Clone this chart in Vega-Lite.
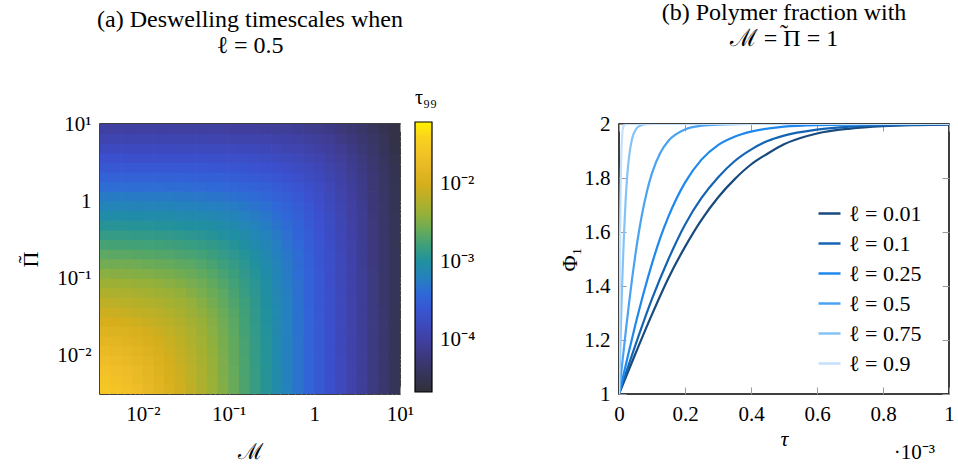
{
"$schema": "https://vega.github.io/schema/vega-lite/v6.json",
"padding": {"left": 13, "top": 0, "right": 2, "bottom": 2},
"spacing": 81,
"config": {
  "font": "Liberation Serif",
  "view": {"stroke": "black", "strokeWidth": 1.5},
  "axis": {"domain": false, "grid": false, "tickColor": "#9a9a9a", "tickWidth": 1, "labelFontSize": 21, "labelColor": "black", "labelFont": "Liberation Serif", "titleFont": "Liberation Serif", "titleFontSize": 22, "titleFontWeight": "normal", "titleColor": "black", "labelPadding": 9, "labelOverlap": false, "labelFlush": false},
  "legend": {"labelFont": "Liberation Serif", "titleFont": "Liberation Serif", "labelColor": "black", "titleColor": "black", "titleFontWeight": "normal"},
  "text": {"font": "Liberation Serif"}
},
"datasets": {
"curves": [
{"ell":0.01,"tau":0,"phi":1},{"ell":0.01,"tau":0.05,"phi":1.15},{"ell":0.01,"tau":0.1,"phi":1.295},{"ell":0.01,"tau":0.15,"phi":1.43},{"ell":0.01,"tau":0.2,"phi":1.545},{"ell":0.01,"tau":0.25,"phi":1.645},{"ell":0.01,"tau":0.3,"phi":1.728},{"ell":0.01,"tau":0.35,"phi":1.795},{"ell":0.01,"tau":0.4,"phi":1.85},{"ell":0.01,"tau":0.45,"phi":1.89},{"ell":0.01,"tau":0.5,"phi":1.925},{"ell":0.01,"tau":0.55,"phi":1.948},{"ell":0.01,"tau":0.6,"phi":1.965},{"ell":0.01,"tau":0.7,"phi":1.983},{"ell":0.01,"tau":0.8,"phi":1.992},{"ell":0.01,"tau":0.9,"phi":1.996},{"ell":0.01,"tau":1,"phi":1.998},
{"ell":0.1,"tau":0,"phi":1},{"ell":0.1,"tau":0.05,"phi":1.182},{"ell":0.1,"tau":0.1,"phi":1.352},{"ell":0.1,"tau":0.15,"phi":1.5},{"ell":0.1,"tau":0.2,"phi":1.627},{"ell":0.1,"tau":0.25,"phi":1.726},{"ell":0.1,"tau":0.3,"phi":1.802},{"ell":0.1,"tau":0.35,"phi":1.862},{"ell":0.1,"tau":0.4,"phi":1.905},{"ell":0.1,"tau":0.45,"phi":1.937},{"ell":0.1,"tau":0.5,"phi":1.957},{"ell":0.1,"tau":0.6,"phi":1.979},{"ell":0.1,"tau":0.7,"phi":1.99},{"ell":0.1,"tau":0.8,"phi":1.995},{"ell":0.1,"tau":0.9,"phi":1.998},{"ell":0.1,"tau":1,"phi":1.999},
{"ell":0.25,"tau":0,"phi":1},{"ell":0.25,"tau":0.025,"phi":1.131},{"ell":0.25,"tau":0.05,"phi":1.258},{"ell":0.25,"tau":0.075,"phi":1.376},{"ell":0.25,"tau":0.1,"phi":1.483},{"ell":0.25,"tau":0.125,"phi":1.578},{"ell":0.25,"tau":0.15,"phi":1.658},{"ell":0.25,"tau":0.2,"phi":1.783},{"ell":0.25,"tau":0.25,"phi":1.868},{"ell":0.25,"tau":0.3,"phi":1.922},{"ell":0.25,"tau":0.35,"phi":1.953},{"ell":0.25,"tau":0.4,"phi":1.972},{"ell":0.25,"tau":0.5,"phi":1.99},{"ell":0.25,"tau":0.6,"phi":1.996},{"ell":0.25,"tau":0.8,"phi":1.999},{"ell":0.25,"tau":1,"phi":2},
{"ell":0.5,"tau":0,"phi":1},{"ell":0.5,"tau":0.01,"phi":1.115},{"ell":0.5,"tau":0.02,"phi":1.226},{"ell":0.5,"tau":0.03,"phi":1.332},{"ell":0.5,"tau":0.04,"phi":1.43},{"ell":0.5,"tau":0.05,"phi":1.519},{"ell":0.5,"tau":0.06,"phi":1.598},{"ell":0.5,"tau":0.07,"phi":1.667},{"ell":0.5,"tau":0.085,"phi":1.752},{"ell":0.5,"tau":0.1,"phi":1.818},{"ell":0.5,"tau":0.125,"phi":1.893},{"ell":0.5,"tau":0.15,"phi":1.938},{"ell":0.5,"tau":0.2,"phi":1.98},{"ell":0.5,"tau":0.25,"phi":1.994},{"ell":0.5,"tau":0.3,"phi":1.998},{"ell":0.5,"tau":0.4,"phi":2},{"ell":0.5,"tau":1,"phi":2},
{"ell":0.75,"tau":0,"phi":1},{"ell":0.75,"tau":0.0025,"phi":1.112},{"ell":0.75,"tau":0.005,"phi":1.221},{"ell":0.75,"tau":0.0075,"phi":1.325},{"ell":0.75,"tau":0.01,"phi":1.422},{"ell":0.75,"tau":0.0125,"phi":1.51},{"ell":0.75,"tau":0.015,"phi":1.588},{"ell":0.75,"tau":0.02,"phi":1.716},{"ell":0.75,"tau":0.025,"phi":1.81},{"ell":0.75,"tau":0.03,"phi":1.874},{"ell":0.75,"tau":0.04,"phi":1.947},{"ell":0.75,"tau":0.05,"phi":1.978},{"ell":0.75,"tau":0.06,"phi":1.991},{"ell":0.75,"tau":0.08,"phi":1.999},{"ell":0.75,"tau":0.1,"phi":2},{"ell":0.75,"tau":1,"phi":2},
{"ell":0.9,"tau":0,"phi":1},{"ell":0.9,"tau":0.001,"phi":1.197},{"ell":0.9,"tau":0.002,"phi":1.38},{"ell":0.9,"tau":0.003,"phi":1.537},{"ell":0.9,"tau":0.004,"phi":1.664},{"ell":0.9,"tau":0.005,"phi":1.762},{"ell":0.9,"tau":0.006,"phi":1.834},{"ell":0.9,"tau":0.008,"phi":1.922},{"ell":0.9,"tau":0.01,"phi":1.964},{"ell":0.9,"tau":0.0125,"phi":1.987},{"ell":0.9,"tau":0.015,"phi":1.995},{"ell":0.9,"tau":0.02,"phi":1.999},{"ell":0.9,"tau":0.03,"phi":2},{"ell":0.9,"tau":1,"phi":2}
],
"heat": [
{"logM":-2.4375,"logPi":-2.4375,"logTau":-1.55},{"logM":-2.3125,"logPi":-2.4375,"logTau":-1.59},{"logM":-2.1875,"logPi":-2.4375,"logTau":-1.64},{"logM":-2.0625,"logPi":-2.4375,"logTau":-1.71},{"logM":-1.9375,"logPi":-2.4375,"logTau":-1.78},{"logM":-1.8125,"logPi":-2.4375,"logTau":-1.86},{"logM":-1.6875,"logPi":-2.4375,"logTau":-1.95},{"logM":-1.5625,"logPi":-2.4375,"logTau":-2.04},{"logM":-1.4375,"logPi":-2.4375,"logTau":-2.14},{"logM":-1.3125,"logPi":-2.4375,"logTau":-2.25},{"logM":-1.1875,"logPi":-2.4375,"logTau":-2.36},{"logM":-1.0625,"logPi":-2.4375,"logTau":-2.47},{"logM":-0.9375,"logPi":-2.4375,"logTau":-2.59},{"logM":-0.8125,"logPi":-2.4375,"logTau":-2.71},{"logM":-0.6875,"logPi":-2.4375,"logTau":-2.83},{"logM":-0.5625,"logPi":-2.4375,"logTau":-2.95},{"logM":-0.4375,"logPi":-2.4375,"logTau":-3.07},{"logM":-0.3125,"logPi":-2.4375,"logTau":-3.19},{"logM":-0.1875,"logPi":-2.4375,"logTau":-3.32},{"logM":-0.0625,"logPi":-2.4375,"logTau":-3.44},{"logM":0.0625,"logPi":-2.4375,"logTau":-3.57},{"logM":0.1875,"logPi":-2.4375,"logTau":-3.69},{"logM":0.3125,"logPi":-2.4375,"logTau":-3.81},{"logM":0.4375,"logPi":-2.4375,"logTau":-3.94},{"logM":0.5625,"logPi":-2.4375,"logTau":-4.06},{"logM":0.6875,"logPi":-2.4375,"logTau":-4.19},{"logM":0.8125,"logPi":-2.4375,"logTau":-4.31},{"logM":0.9375,"logPi":-2.4375,"logTau":-4.44},
{"logM":-2.4375,"logPi":-2.3125,"logTau":-1.59},{"logM":-2.3125,"logPi":-2.3125,"logTau":-1.63},{"logM":-2.1875,"logPi":-2.3125,"logTau":-1.68},{"logM":-2.0625,"logPi":-2.3125,"logTau":-1.74},{"logM":-1.9375,"logPi":-2.3125,"logTau":-1.81},{"logM":-1.8125,"logPi":-2.3125,"logTau":-1.88},{"logM":-1.6875,"logPi":-2.3125,"logTau":-1.97},{"logM":-1.5625,"logPi":-2.3125,"logTau":-2.06},{"logM":-1.4375,"logPi":-2.3125,"logTau":-2.15},{"logM":-1.3125,"logPi":-2.3125,"logTau":-2.26},{"logM":-1.1875,"logPi":-2.3125,"logTau":-2.37},{"logM":-1.0625,"logPi":-2.3125,"logTau":-2.48},{"logM":-0.9375,"logPi":-2.3125,"logTau":-2.59},{"logM":-0.8125,"logPi":-2.3125,"logTau":-2.71},{"logM":-0.6875,"logPi":-2.3125,"logTau":-2.83},{"logM":-0.5625,"logPi":-2.3125,"logTau":-2.95},{"logM":-0.4375,"logPi":-2.3125,"logTau":-3.07},{"logM":-0.3125,"logPi":-2.3125,"logTau":-3.2},{"logM":-0.1875,"logPi":-2.3125,"logTau":-3.32},{"logM":-0.0625,"logPi":-2.3125,"logTau":-3.44},{"logM":0.0625,"logPi":-2.3125,"logTau":-3.57},{"logM":0.1875,"logPi":-2.3125,"logTau":-3.69},{"logM":0.3125,"logPi":-2.3125,"logTau":-3.81},{"logM":0.4375,"logPi":-2.3125,"logTau":-3.94},{"logM":0.5625,"logPi":-2.3125,"logTau":-4.06},{"logM":0.6875,"logPi":-2.3125,"logTau":-4.19},{"logM":0.8125,"logPi":-2.3125,"logTau":-4.31},{"logM":0.9375,"logPi":-2.3125,"logTau":-4.44},
{"logM":-2.4375,"logPi":-2.1875,"logTau":-1.64},{"logM":-2.3125,"logPi":-2.1875,"logTau":-1.68},{"logM":-2.1875,"logPi":-2.1875,"logTau":-1.72},{"logM":-2.0625,"logPi":-2.1875,"logTau":-1.77},{"logM":-1.9375,"logPi":-2.1875,"logTau":-1.84},{"logM":-1.8125,"logPi":-2.1875,"logTau":-1.91},{"logM":-1.6875,"logPi":-2.1875,"logTau":-1.99},{"logM":-1.5625,"logPi":-2.1875,"logTau":-2.07},{"logM":-1.4375,"logPi":-2.1875,"logTau":-2.17},{"logM":-1.3125,"logPi":-2.1875,"logTau":-2.27},{"logM":-1.1875,"logPi":-2.1875,"logTau":-2.38},{"logM":-1.0625,"logPi":-2.1875,"logTau":-2.49},{"logM":-0.9375,"logPi":-2.1875,"logTau":-2.6},{"logM":-0.8125,"logPi":-2.1875,"logTau":-2.72},{"logM":-0.6875,"logPi":-2.1875,"logTau":-2.83},{"logM":-0.5625,"logPi":-2.1875,"logTau":-2.95},{"logM":-0.4375,"logPi":-2.1875,"logTau":-3.07},{"logM":-0.3125,"logPi":-2.1875,"logTau":-3.2},{"logM":-0.1875,"logPi":-2.1875,"logTau":-3.32},{"logM":-0.0625,"logPi":-2.1875,"logTau":-3.44},{"logM":0.0625,"logPi":-2.1875,"logTau":-3.57},{"logM":0.1875,"logPi":-2.1875,"logTau":-3.69},{"logM":0.3125,"logPi":-2.1875,"logTau":-3.81},{"logM":0.4375,"logPi":-2.1875,"logTau":-3.94},{"logM":0.5625,"logPi":-2.1875,"logTau":-4.06},{"logM":0.6875,"logPi":-2.1875,"logTau":-4.19},{"logM":0.8125,"logPi":-2.1875,"logTau":-4.31},{"logM":0.9375,"logPi":-2.1875,"logTau":-4.44},
{"logM":-2.4375,"logPi":-2.0625,"logTau":-1.7},{"logM":-2.3125,"logPi":-2.0625,"logTau":-1.73},{"logM":-2.1875,"logPi":-2.0625,"logTau":-1.77},{"logM":-2.0625,"logPi":-2.0625,"logTau":-1.82},{"logM":-1.9375,"logPi":-2.0625,"logTau":-1.87},{"logM":-1.8125,"logPi":-2.0625,"logTau":-1.94},{"logM":-1.6875,"logPi":-2.0625,"logTau":-2.01},{"logM":-1.5625,"logPi":-2.0625,"logTau":-2.1},{"logM":-1.4375,"logPi":-2.0625,"logTau":-2.19},{"logM":-1.3125,"logPi":-2.0625,"logTau":-2.28},{"logM":-1.1875,"logPi":-2.0625,"logTau":-2.39},{"logM":-1.0625,"logPi":-2.0625,"logTau":-2.49},{"logM":-0.9375,"logPi":-2.0625,"logTau":-2.61},{"logM":-0.8125,"logPi":-2.0625,"logTau":-2.72},{"logM":-0.6875,"logPi":-2.0625,"logTau":-2.84},{"logM":-0.5625,"logPi":-2.0625,"logTau":-2.96},{"logM":-0.4375,"logPi":-2.0625,"logTau":-3.08},{"logM":-0.3125,"logPi":-2.0625,"logTau":-3.2},{"logM":-0.1875,"logPi":-2.0625,"logTau":-3.32},{"logM":-0.0625,"logPi":-2.0625,"logTau":-3.44},{"logM":0.0625,"logPi":-2.0625,"logTau":-3.57},{"logM":0.1875,"logPi":-2.0625,"logTau":-3.69},{"logM":0.3125,"logPi":-2.0625,"logTau":-3.81},{"logM":0.4375,"logPi":-2.0625,"logTau":-3.94},{"logM":0.5625,"logPi":-2.0625,"logTau":-4.06},{"logM":0.6875,"logPi":-2.0625,"logTau":-4.19},{"logM":0.8125,"logPi":-2.0625,"logTau":-4.31},{"logM":0.9375,"logPi":-2.0625,"logTau":-4.44},
{"logM":-2.4375,"logPi":-1.9375,"logTau":-1.76},{"logM":-2.3125,"logPi":-1.9375,"logTau":-1.79},{"logM":-2.1875,"logPi":-1.9375,"logTau":-1.82},{"logM":-2.0625,"logPi":-1.9375,"logTau":-1.87},{"logM":-1.9375,"logPi":-1.9375,"logTau":-1.92},{"logM":-1.8125,"logPi":-1.9375,"logTau":-1.98},{"logM":-1.6875,"logPi":-1.9375,"logTau":-2.05},{"logM":-1.5625,"logPi":-1.9375,"logTau":-2.12},{"logM":-1.4375,"logPi":-1.9375,"logTau":-2.21},{"logM":-1.3125,"logPi":-1.9375,"logTau":-2.3},{"logM":-1.1875,"logPi":-1.9375,"logTau":-2.4},{"logM":-1.0625,"logPi":-1.9375,"logTau":-2.51},{"logM":-0.9375,"logPi":-1.9375,"logTau":-2.61},{"logM":-0.8125,"logPi":-1.9375,"logTau":-2.73},{"logM":-0.6875,"logPi":-1.9375,"logTau":-2.84},{"logM":-0.5625,"logPi":-1.9375,"logTau":-2.96},{"logM":-0.4375,"logPi":-1.9375,"logTau":-3.08},{"logM":-0.3125,"logPi":-1.9375,"logTau":-3.2},{"logM":-0.1875,"logPi":-1.9375,"logTau":-3.32},{"logM":-0.0625,"logPi":-1.9375,"logTau":-3.44},{"logM":0.0625,"logPi":-1.9375,"logTau":-3.57},{"logM":0.1875,"logPi":-1.9375,"logTau":-3.69},{"logM":0.3125,"logPi":-1.9375,"logTau":-3.82},{"logM":0.4375,"logPi":-1.9375,"logTau":-3.94},{"logM":0.5625,"logPi":-1.9375,"logTau":-4.06},{"logM":0.6875,"logPi":-1.9375,"logTau":-4.19},{"logM":0.8125,"logPi":-1.9375,"logTau":-4.31},{"logM":0.9375,"logPi":-1.9375,"logTau":-4.44},
{"logM":-2.4375,"logPi":-1.8125,"logTau":-1.83},{"logM":-2.3125,"logPi":-1.8125,"logTau":-1.85},{"logM":-2.1875,"logPi":-1.8125,"logTau":-1.88},{"logM":-2.0625,"logPi":-1.8125,"logTau":-1.92},{"logM":-1.9375,"logPi":-1.8125,"logTau":-1.97},{"logM":-1.8125,"logPi":-1.8125,"logTau":-2.02},{"logM":-1.6875,"logPi":-1.8125,"logTau":-2.08},{"logM":-1.5625,"logPi":-1.8125,"logTau":-2.15},{"logM":-1.4375,"logPi":-1.8125,"logTau":-2.23},{"logM":-1.3125,"logPi":-1.8125,"logTau":-2.32},{"logM":-1.1875,"logPi":-1.8125,"logTau":-2.42},{"logM":-1.0625,"logPi":-1.8125,"logTau":-2.52},{"logM":-0.9375,"logPi":-1.8125,"logTau":-2.62},{"logM":-0.8125,"logPi":-1.8125,"logTau":-2.73},{"logM":-0.6875,"logPi":-1.8125,"logTau":-2.85},{"logM":-0.5625,"logPi":-1.8125,"logTau":-2.96},{"logM":-0.4375,"logPi":-1.8125,"logTau":-3.08},{"logM":-0.3125,"logPi":-1.8125,"logTau":-3.2},{"logM":-0.1875,"logPi":-1.8125,"logTau":-3.32},{"logM":-0.0625,"logPi":-1.8125,"logTau":-3.45},{"logM":0.0625,"logPi":-1.8125,"logTau":-3.57},{"logM":0.1875,"logPi":-1.8125,"logTau":-3.69},{"logM":0.3125,"logPi":-1.8125,"logTau":-3.82},{"logM":0.4375,"logPi":-1.8125,"logTau":-3.94},{"logM":0.5625,"logPi":-1.8125,"logTau":-4.06},{"logM":0.6875,"logPi":-1.8125,"logTau":-4.19},{"logM":0.8125,"logPi":-1.8125,"logTau":-4.31},{"logM":0.9375,"logPi":-1.8125,"logTau":-4.44},
{"logM":-2.4375,"logPi":-1.6875,"logTau":-1.91},{"logM":-2.3125,"logPi":-1.6875,"logTau":-1.93},{"logM":-2.1875,"logPi":-1.6875,"logTau":-1.95},{"logM":-2.0625,"logPi":-1.6875,"logTau":-1.98},{"logM":-1.9375,"logPi":-1.6875,"logTau":-2.02},{"logM":-1.8125,"logPi":-1.6875,"logTau":-2.07},{"logM":-1.6875,"logPi":-1.6875,"logTau":-2.13},{"logM":-1.5625,"logPi":-1.6875,"logTau":-2.19},{"logM":-1.4375,"logPi":-1.6875,"logTau":-2.27},{"logM":-1.3125,"logPi":-1.6875,"logTau":-2.35},{"logM":-1.1875,"logPi":-1.6875,"logTau":-2.44},{"logM":-1.0625,"logPi":-1.6875,"logTau":-2.53},{"logM":-0.9375,"logPi":-1.6875,"logTau":-2.64},{"logM":-0.8125,"logPi":-1.6875,"logTau":-2.75},{"logM":-0.6875,"logPi":-1.6875,"logTau":-2.86},{"logM":-0.5625,"logPi":-1.6875,"logTau":-2.97},{"logM":-0.4375,"logPi":-1.6875,"logTau":-3.09},{"logM":-0.3125,"logPi":-1.6875,"logTau":-3.21},{"logM":-0.1875,"logPi":-1.6875,"logTau":-3.33},{"logM":-0.0625,"logPi":-1.6875,"logTau":-3.45},{"logM":0.0625,"logPi":-1.6875,"logTau":-3.57},{"logM":0.1875,"logPi":-1.6875,"logTau":-3.69},{"logM":0.3125,"logPi":-1.6875,"logTau":-3.82},{"logM":0.4375,"logPi":-1.6875,"logTau":-3.94},{"logM":0.5625,"logPi":-1.6875,"logTau":-4.07},{"logM":0.6875,"logPi":-1.6875,"logTau":-4.19},{"logM":0.8125,"logPi":-1.6875,"logTau":-4.31},{"logM":0.9375,"logPi":-1.6875,"logTau":-4.44},
{"logM":-2.4375,"logPi":-1.5625,"logTau":-1.99},{"logM":-2.3125,"logPi":-1.5625,"logTau":-2.0},{"logM":-2.1875,"logPi":-1.5625,"logTau":-2.02},{"logM":-2.0625,"logPi":-1.5625,"logTau":-2.05},{"logM":-1.9375,"logPi":-1.5625,"logTau":-2.09},{"logM":-1.8125,"logPi":-1.5625,"logTau":-2.13},{"logM":-1.6875,"logPi":-1.5625,"logTau":-2.18},{"logM":-1.5625,"logPi":-1.5625,"logTau":-2.24},{"logM":-1.4375,"logPi":-1.5625,"logTau":-2.3},{"logM":-1.3125,"logPi":-1.5625,"logTau":-2.38},{"logM":-1.1875,"logPi":-1.5625,"logTau":-2.46},{"logM":-1.0625,"logPi":-1.5625,"logTau":-2.56},{"logM":-0.9375,"logPi":-1.5625,"logTau":-2.65},{"logM":-0.8125,"logPi":-1.5625,"logTau":-2.76},{"logM":-0.6875,"logPi":-1.5625,"logTau":-2.87},{"logM":-0.5625,"logPi":-1.5625,"logTau":-2.98},{"logM":-0.4375,"logPi":-1.5625,"logTau":-3.09},{"logM":-0.3125,"logPi":-1.5625,"logTau":-3.21},{"logM":-0.1875,"logPi":-1.5625,"logTau":-3.33},{"logM":-0.0625,"logPi":-1.5625,"logTau":-3.45},{"logM":0.0625,"logPi":-1.5625,"logTau":-3.57},{"logM":0.1875,"logPi":-1.5625,"logTau":-3.7},{"logM":0.3125,"logPi":-1.5625,"logTau":-3.82},{"logM":0.4375,"logPi":-1.5625,"logTau":-3.94},{"logM":0.5625,"logPi":-1.5625,"logTau":-4.07},{"logM":0.6875,"logPi":-1.5625,"logTau":-4.19},{"logM":0.8125,"logPi":-1.5625,"logTau":-4.31},{"logM":0.9375,"logPi":-1.5625,"logTau":-4.44},
{"logM":-2.4375,"logPi":-1.4375,"logTau":-2.07},{"logM":-2.3125,"logPi":-1.4375,"logTau":-2.08},{"logM":-2.1875,"logPi":-1.4375,"logTau":-2.1},{"logM":-2.0625,"logPi":-1.4375,"logTau":-2.13},{"logM":-1.9375,"logPi":-1.4375,"logTau":-2.15},{"logM":-1.8125,"logPi":-1.4375,"logTau":-2.19},{"logM":-1.6875,"logPi":-1.4375,"logTau":-2.23},{"logM":-1.5625,"logPi":-1.4375,"logTau":-2.28},{"logM":-1.4375,"logPi":-1.4375,"logTau":-2.35},{"logM":-1.3125,"logPi":-1.4375,"logTau":-2.41},{"logM":-1.1875,"logPi":-1.4375,"logTau":-2.49},{"logM":-1.0625,"logPi":-1.4375,"logTau":-2.58},{"logM":-0.9375,"logPi":-1.4375,"logTau":-2.67},{"logM":-0.8125,"logPi":-1.4375,"logTau":-2.77},{"logM":-0.6875,"logPi":-1.4375,"logTau":-2.88},{"logM":-0.5625,"logPi":-1.4375,"logTau":-2.99},{"logM":-0.4375,"logPi":-1.4375,"logTau":-3.1},{"logM":-0.3125,"logPi":-1.4375,"logTau":-3.22},{"logM":-0.1875,"logPi":-1.4375,"logTau":-3.33},{"logM":-0.0625,"logPi":-1.4375,"logTau":-3.45},{"logM":0.0625,"logPi":-1.4375,"logTau":-3.58},{"logM":0.1875,"logPi":-1.4375,"logTau":-3.7},{"logM":0.3125,"logPi":-1.4375,"logTau":-3.82},{"logM":0.4375,"logPi":-1.4375,"logTau":-3.94},{"logM":0.5625,"logPi":-1.4375,"logTau":-4.07},{"logM":0.6875,"logPi":-1.4375,"logTau":-4.19},{"logM":0.8125,"logPi":-1.4375,"logTau":-4.31},{"logM":0.9375,"logPi":-1.4375,"logTau":-4.44},
{"logM":-2.4375,"logPi":-1.3125,"logTau":-2.16},{"logM":-2.3125,"logPi":-1.3125,"logTau":-2.17},{"logM":-2.1875,"logPi":-1.3125,"logTau":-2.19},{"logM":-2.0625,"logPi":-1.3125,"logTau":-2.2},{"logM":-1.9375,"logPi":-1.3125,"logTau":-2.23},{"logM":-1.8125,"logPi":-1.3125,"logTau":-2.26},{"logM":-1.6875,"logPi":-1.3125,"logTau":-2.3},{"logM":-1.5625,"logPi":-1.3125,"logTau":-2.34},{"logM":-1.4375,"logPi":-1.3125,"logTau":-2.39},{"logM":-1.3125,"logPi":-1.3125,"logTau":-2.46},{"logM":-1.1875,"logPi":-1.3125,"logTau":-2.53},{"logM":-1.0625,"logPi":-1.3125,"logTau":-2.61},{"logM":-0.9375,"logPi":-1.3125,"logTau":-2.7},{"logM":-0.8125,"logPi":-1.3125,"logTau":-2.79},{"logM":-0.6875,"logPi":-1.3125,"logTau":-2.89},{"logM":-0.5625,"logPi":-1.3125,"logTau":-3.0},{"logM":-0.4375,"logPi":-1.3125,"logTau":-3.11},{"logM":-0.3125,"logPi":-1.3125,"logTau":-3.22},{"logM":-0.1875,"logPi":-1.3125,"logTau":-3.34},{"logM":-0.0625,"logPi":-1.3125,"logTau":-3.46},{"logM":0.0625,"logPi":-1.3125,"logTau":-3.58},{"logM":0.1875,"logPi":-1.3125,"logTau":-3.7},{"logM":0.3125,"logPi":-1.3125,"logTau":-3.82},{"logM":0.4375,"logPi":-1.3125,"logTau":-3.94},{"logM":0.5625,"logPi":-1.3125,"logTau":-4.07},{"logM":0.6875,"logPi":-1.3125,"logTau":-4.19},{"logM":0.8125,"logPi":-1.3125,"logTau":-4.32},{"logM":0.9375,"logPi":-1.3125,"logTau":-4.44},
{"logM":-2.4375,"logPi":-1.1875,"logTau":-2.25},{"logM":-2.3125,"logPi":-1.1875,"logTau":-2.26},{"logM":-2.1875,"logPi":-1.1875,"logTau":-2.27},{"logM":-2.0625,"logPi":-1.1875,"logTau":-2.29},{"logM":-1.9375,"logPi":-1.1875,"logTau":-2.31},{"logM":-1.8125,"logPi":-1.1875,"logTau":-2.33},{"logM":-1.6875,"logPi":-1.1875,"logTau":-2.36},{"logM":-1.5625,"logPi":-1.1875,"logTau":-2.4},{"logM":-1.4375,"logPi":-1.1875,"logTau":-2.45},{"logM":-1.3125,"logPi":-1.1875,"logTau":-2.51},{"logM":-1.1875,"logPi":-1.1875,"logTau":-2.57},{"logM":-1.0625,"logPi":-1.1875,"logTau":-2.64},{"logM":-0.9375,"logPi":-1.1875,"logTau":-2.73},{"logM":-0.8125,"logPi":-1.1875,"logTau":-2.82},{"logM":-0.6875,"logPi":-1.1875,"logTau":-2.91},{"logM":-0.5625,"logPi":-1.1875,"logTau":-3.01},{"logM":-0.4375,"logPi":-1.1875,"logTau":-3.12},{"logM":-0.3125,"logPi":-1.1875,"logTau":-3.23},{"logM":-0.1875,"logPi":-1.1875,"logTau":-3.35},{"logM":-0.0625,"logPi":-1.1875,"logTau":-3.46},{"logM":0.0625,"logPi":-1.1875,"logTau":-3.58},{"logM":0.1875,"logPi":-1.1875,"logTau":-3.7},{"logM":0.3125,"logPi":-1.1875,"logTau":-3.82},{"logM":0.4375,"logPi":-1.1875,"logTau":-3.95},{"logM":0.5625,"logPi":-1.1875,"logTau":-4.07},{"logM":0.6875,"logPi":-1.1875,"logTau":-4.19},{"logM":0.8125,"logPi":-1.1875,"logTau":-4.32},{"logM":0.9375,"logPi":-1.1875,"logTau":-4.44},
{"logM":-2.4375,"logPi":-1.0625,"logTau":-2.35},{"logM":-2.3125,"logPi":-1.0625,"logTau":-2.35},{"logM":-2.1875,"logPi":-1.0625,"logTau":-2.36},{"logM":-2.0625,"logPi":-1.0625,"logTau":-2.38},{"logM":-1.9375,"logPi":-1.0625,"logTau":-2.39},{"logM":-1.8125,"logPi":-1.0625,"logTau":-2.41},{"logM":-1.6875,"logPi":-1.0625,"logTau":-2.44},{"logM":-1.5625,"logPi":-1.0625,"logTau":-2.47},{"logM":-1.4375,"logPi":-1.0625,"logTau":-2.51},{"logM":-1.3125,"logPi":-1.0625,"logTau":-2.56},{"logM":-1.1875,"logPi":-1.0625,"logTau":-2.62},{"logM":-1.0625,"logPi":-1.0625,"logTau":-2.68},{"logM":-0.9375,"logPi":-1.0625,"logTau":-2.76},{"logM":-0.8125,"logPi":-1.0625,"logTau":-2.84},{"logM":-0.6875,"logPi":-1.0625,"logTau":-2.93},{"logM":-0.5625,"logPi":-1.0625,"logTau":-3.03},{"logM":-0.4375,"logPi":-1.0625,"logTau":-3.14},{"logM":-0.3125,"logPi":-1.0625,"logTau":-3.24},{"logM":-0.1875,"logPi":-1.0625,"logTau":-3.35},{"logM":-0.0625,"logPi":-1.0625,"logTau":-3.47},{"logM":0.0625,"logPi":-1.0625,"logTau":-3.59},{"logM":0.1875,"logPi":-1.0625,"logTau":-3.71},{"logM":0.3125,"logPi":-1.0625,"logTau":-3.83},{"logM":0.4375,"logPi":-1.0625,"logTau":-3.95},{"logM":0.5625,"logPi":-1.0625,"logTau":-4.07},{"logM":0.6875,"logPi":-1.0625,"logTau":-4.19},{"logM":0.8125,"logPi":-1.0625,"logTau":-4.32},{"logM":0.9375,"logPi":-1.0625,"logTau":-4.44},
{"logM":-2.4375,"logPi":-0.9375,"logTau":-2.44},{"logM":-2.3125,"logPi":-0.9375,"logTau":-2.45},{"logM":-2.1875,"logPi":-0.9375,"logTau":-2.46},{"logM":-2.0625,"logPi":-0.9375,"logTau":-2.47},{"logM":-1.9375,"logPi":-0.9375,"logTau":-2.48},{"logM":-1.8125,"logPi":-0.9375,"logTau":-2.5},{"logM":-1.6875,"logPi":-0.9375,"logTau":-2.52},{"logM":-1.5625,"logPi":-0.9375,"logTau":-2.55},{"logM":-1.4375,"logPi":-0.9375,"logTau":-2.58},{"logM":-1.3125,"logPi":-0.9375,"logTau":-2.62},{"logM":-1.1875,"logPi":-0.9375,"logTau":-2.67},{"logM":-1.0625,"logPi":-0.9375,"logTau":-2.73},{"logM":-0.9375,"logPi":-0.9375,"logTau":-2.8},{"logM":-0.8125,"logPi":-0.9375,"logTau":-2.88},{"logM":-0.6875,"logPi":-0.9375,"logTau":-2.96},{"logM":-0.5625,"logPi":-0.9375,"logTau":-3.05},{"logM":-0.4375,"logPi":-0.9375,"logTau":-3.15},{"logM":-0.3125,"logPi":-0.9375,"logTau":-3.26},{"logM":-0.1875,"logPi":-0.9375,"logTau":-3.37},{"logM":-0.0625,"logPi":-0.9375,"logTau":-3.48},{"logM":0.0625,"logPi":-0.9375,"logTau":-3.59},{"logM":0.1875,"logPi":-0.9375,"logTau":-3.71},{"logM":0.3125,"logPi":-0.9375,"logTau":-3.83},{"logM":0.4375,"logPi":-0.9375,"logTau":-3.95},{"logM":0.5625,"logPi":-0.9375,"logTau":-4.07},{"logM":0.6875,"logPi":-0.9375,"logTau":-4.19},{"logM":0.8125,"logPi":-0.9375,"logTau":-4.32},{"logM":0.9375,"logPi":-0.9375,"logTau":-4.44},
{"logM":-2.4375,"logPi":-0.8125,"logTau":-2.54},{"logM":-2.3125,"logPi":-0.8125,"logTau":-2.55},{"logM":-2.1875,"logPi":-0.8125,"logTau":-2.55},{"logM":-2.0625,"logPi":-0.8125,"logTau":-2.56},{"logM":-1.9375,"logPi":-0.8125,"logTau":-2.57},{"logM":-1.8125,"logPi":-0.8125,"logTau":-2.59},{"logM":-1.6875,"logPi":-0.8125,"logTau":-2.6},{"logM":-1.5625,"logPi":-0.8125,"logTau":-2.63},{"logM":-1.4375,"logPi":-0.8125,"logTau":-2.65},{"logM":-1.3125,"logPi":-0.8125,"logTau":-2.69},{"logM":-1.1875,"logPi":-0.8125,"logTau":-2.73},{"logM":-1.0625,"logPi":-0.8125,"logTau":-2.79},{"logM":-0.9375,"logPi":-0.8125,"logTau":-2.85},{"logM":-0.8125,"logPi":-0.8125,"logTau":-2.92},{"logM":-0.6875,"logPi":-0.8125,"logTau":-2.99},{"logM":-0.5625,"logPi":-0.8125,"logTau":-3.08},{"logM":-0.4375,"logPi":-0.8125,"logTau":-3.17},{"logM":-0.3125,"logPi":-0.8125,"logTau":-3.27},{"logM":-0.1875,"logPi":-0.8125,"logTau":-3.38},{"logM":-0.0625,"logPi":-0.8125,"logTau":-3.49},{"logM":0.0625,"logPi":-0.8125,"logTau":-3.6},{"logM":0.1875,"logPi":-0.8125,"logTau":-3.72},{"logM":0.3125,"logPi":-0.8125,"logTau":-3.83},{"logM":0.4375,"logPi":-0.8125,"logTau":-3.95},{"logM":0.5625,"logPi":-0.8125,"logTau":-4.08},{"logM":0.6875,"logPi":-0.8125,"logTau":-4.2},{"logM":0.8125,"logPi":-0.8125,"logTau":-4.32},{"logM":0.9375,"logPi":-0.8125,"logTau":-4.44},
{"logM":-2.4375,"logPi":-0.6875,"logTau":-2.64},{"logM":-2.3125,"logPi":-0.6875,"logTau":-2.65},{"logM":-2.1875,"logPi":-0.6875,"logTau":-2.65},{"logM":-2.0625,"logPi":-0.6875,"logTau":-2.66},{"logM":-1.9375,"logPi":-0.6875,"logTau":-2.67},{"logM":-1.8125,"logPi":-0.6875,"logTau":-2.68},{"logM":-1.6875,"logPi":-0.6875,"logTau":-2.69},{"logM":-1.5625,"logPi":-0.6875,"logTau":-2.71},{"logM":-1.4375,"logPi":-0.6875,"logTau":-2.73},{"logM":-1.3125,"logPi":-0.6875,"logTau":-2.76},{"logM":-1.1875,"logPi":-0.6875,"logTau":-2.8},{"logM":-1.0625,"logPi":-0.6875,"logTau":-2.85},{"logM":-0.9375,"logPi":-0.6875,"logTau":-2.9},{"logM":-0.8125,"logPi":-0.6875,"logTau":-2.96},{"logM":-0.6875,"logPi":-0.6875,"logTau":-3.03},{"logM":-0.5625,"logPi":-0.6875,"logTau":-3.11},{"logM":-0.4375,"logPi":-0.6875,"logTau":-3.2},{"logM":-0.3125,"logPi":-0.6875,"logTau":-3.29},{"logM":-0.1875,"logPi":-0.6875,"logTau":-3.39},{"logM":-0.0625,"logPi":-0.6875,"logTau":-3.5},{"logM":0.0625,"logPi":-0.6875,"logTau":-3.61},{"logM":0.1875,"logPi":-0.6875,"logTau":-3.72},{"logM":0.3125,"logPi":-0.6875,"logTau":-3.84},{"logM":0.4375,"logPi":-0.6875,"logTau":-3.96},{"logM":0.5625,"logPi":-0.6875,"logTau":-4.08},{"logM":0.6875,"logPi":-0.6875,"logTau":-4.2},{"logM":0.8125,"logPi":-0.6875,"logTau":-4.32},{"logM":0.9375,"logPi":-0.6875,"logTau":-4.44},
{"logM":-2.4375,"logPi":-0.5625,"logTau":-2.74},{"logM":-2.3125,"logPi":-0.5625,"logTau":-2.75},{"logM":-2.1875,"logPi":-0.5625,"logTau":-2.75},{"logM":-2.0625,"logPi":-0.5625,"logTau":-2.76},{"logM":-1.9375,"logPi":-0.5625,"logTau":-2.76},{"logM":-1.8125,"logPi":-0.5625,"logTau":-2.77},{"logM":-1.6875,"logPi":-0.5625,"logTau":-2.78},{"logM":-1.5625,"logPi":-0.5625,"logTau":-2.8},{"logM":-1.4375,"logPi":-0.5625,"logTau":-2.82},{"logM":-1.3125,"logPi":-0.5625,"logTau":-2.84},{"logM":-1.1875,"logPi":-0.5625,"logTau":-2.87},{"logM":-1.0625,"logPi":-0.5625,"logTau":-2.91},{"logM":-0.9375,"logPi":-0.5625,"logTau":-2.96},{"logM":-0.8125,"logPi":-0.5625,"logTau":-3.01},{"logM":-0.6875,"logPi":-0.5625,"logTau":-3.08},{"logM":-0.5625,"logPi":-0.5625,"logTau":-3.15},{"logM":-0.4375,"logPi":-0.5625,"logTau":-3.23},{"logM":-0.3125,"logPi":-0.5625,"logTau":-3.32},{"logM":-0.1875,"logPi":-0.5625,"logTau":-3.41},{"logM":-0.0625,"logPi":-0.5625,"logTau":-3.52},{"logM":0.0625,"logPi":-0.5625,"logTau":-3.62},{"logM":0.1875,"logPi":-0.5625,"logTau":-3.73},{"logM":0.3125,"logPi":-0.5625,"logTau":-3.85},{"logM":0.4375,"logPi":-0.5625,"logTau":-3.96},{"logM":0.5625,"logPi":-0.5625,"logTau":-4.08},{"logM":0.6875,"logPi":-0.5625,"logTau":-4.2},{"logM":0.8125,"logPi":-0.5625,"logTau":-4.32},{"logM":0.9375,"logPi":-0.5625,"logTau":-4.45},
{"logM":-2.4375,"logPi":-0.4375,"logTau":-2.85},{"logM":-2.3125,"logPi":-0.4375,"logTau":-2.85},{"logM":-2.1875,"logPi":-0.4375,"logTau":-2.85},{"logM":-2.0625,"logPi":-0.4375,"logTau":-2.86},{"logM":-1.9375,"logPi":-0.4375,"logTau":-2.86},{"logM":-1.8125,"logPi":-0.4375,"logTau":-2.87},{"logM":-1.6875,"logPi":-0.4375,"logTau":-2.88},{"logM":-1.5625,"logPi":-0.4375,"logTau":-2.89},{"logM":-1.4375,"logPi":-0.4375,"logTau":-2.91},{"logM":-1.3125,"logPi":-0.4375,"logTau":-2.93},{"logM":-1.1875,"logPi":-0.4375,"logTau":-2.95},{"logM":-1.0625,"logPi":-0.4375,"logTau":-2.98},{"logM":-0.9375,"logPi":-0.4375,"logTau":-3.02},{"logM":-0.8125,"logPi":-0.4375,"logTau":-3.07},{"logM":-0.6875,"logPi":-0.4375,"logTau":-3.13},{"logM":-0.5625,"logPi":-0.4375,"logTau":-3.19},{"logM":-0.4375,"logPi":-0.4375,"logTau":-3.27},{"logM":-0.3125,"logPi":-0.4375,"logTau":-3.35},{"logM":-0.1875,"logPi":-0.4375,"logTau":-3.44},{"logM":-0.0625,"logPi":-0.4375,"logTau":-3.53},{"logM":0.0625,"logPi":-0.4375,"logTau":-3.64},{"logM":0.1875,"logPi":-0.4375,"logTau":-3.75},{"logM":0.3125,"logPi":-0.4375,"logTau":-3.86},{"logM":0.4375,"logPi":-0.4375,"logTau":-3.97},{"logM":0.5625,"logPi":-0.4375,"logTau":-4.09},{"logM":0.6875,"logPi":-0.4375,"logTau":-4.21},{"logM":0.8125,"logPi":-0.4375,"logTau":-4.33},{"logM":0.9375,"logPi":-0.4375,"logTau":-4.45},
{"logM":-2.4375,"logPi":-0.3125,"logTau":-2.95},{"logM":-2.3125,"logPi":-0.3125,"logTau":-2.95},{"logM":-2.1875,"logPi":-0.3125,"logTau":-2.95},{"logM":-2.0625,"logPi":-0.3125,"logTau":-2.96},{"logM":-1.9375,"logPi":-0.3125,"logTau":-2.96},{"logM":-1.8125,"logPi":-0.3125,"logTau":-2.97},{"logM":-1.6875,"logPi":-0.3125,"logTau":-2.97},{"logM":-1.5625,"logPi":-0.3125,"logTau":-2.98},{"logM":-1.4375,"logPi":-0.3125,"logTau":-3.0},{"logM":-1.3125,"logPi":-0.3125,"logTau":-3.01},{"logM":-1.1875,"logPi":-0.3125,"logTau":-3.03},{"logM":-1.0625,"logPi":-0.3125,"logTau":-3.06},{"logM":-0.9375,"logPi":-0.3125,"logTau":-3.09},{"logM":-0.8125,"logPi":-0.3125,"logTau":-3.14},{"logM":-0.6875,"logPi":-0.3125,"logTau":-3.18},{"logM":-0.5625,"logPi":-0.3125,"logTau":-3.24},{"logM":-0.4375,"logPi":-0.3125,"logTau":-3.31},{"logM":-0.3125,"logPi":-0.3125,"logTau":-3.38},{"logM":-0.1875,"logPi":-0.3125,"logTau":-3.47},{"logM":-0.0625,"logPi":-0.3125,"logTau":-3.56},{"logM":0.0625,"logPi":-0.3125,"logTau":-3.66},{"logM":0.1875,"logPi":-0.3125,"logTau":-3.76},{"logM":0.3125,"logPi":-0.3125,"logTau":-3.87},{"logM":0.4375,"logPi":-0.3125,"logTau":-3.98},{"logM":0.5625,"logPi":-0.3125,"logTau":-4.09},{"logM":0.6875,"logPi":-0.3125,"logTau":-4.21},{"logM":0.8125,"logPi":-0.3125,"logTau":-4.33},{"logM":0.9375,"logPi":-0.3125,"logTau":-4.45},
{"logM":-2.4375,"logPi":-0.1875,"logTau":-3.05},{"logM":-2.3125,"logPi":-0.1875,"logTau":-3.05},{"logM":-2.1875,"logPi":-0.1875,"logTau":-3.06},{"logM":-2.0625,"logPi":-0.1875,"logTau":-3.06},{"logM":-1.9375,"logPi":-0.1875,"logTau":-3.06},{"logM":-1.8125,"logPi":-0.1875,"logTau":-3.07},{"logM":-1.6875,"logPi":-0.1875,"logTau":-3.07},{"logM":-1.5625,"logPi":-0.1875,"logTau":-3.08},{"logM":-1.4375,"logPi":-0.1875,"logTau":-3.09},{"logM":-1.3125,"logPi":-0.1875,"logTau":-3.1},{"logM":-1.1875,"logPi":-0.1875,"logTau":-3.12},{"logM":-1.0625,"logPi":-0.1875,"logTau":-3.14},{"logM":-0.9375,"logPi":-0.1875,"logTau":-3.17},{"logM":-0.8125,"logPi":-0.1875,"logTau":-3.21},{"logM":-0.6875,"logPi":-0.1875,"logTau":-3.25},{"logM":-0.5625,"logPi":-0.1875,"logTau":-3.3},{"logM":-0.4375,"logPi":-0.1875,"logTau":-3.36},{"logM":-0.3125,"logPi":-0.1875,"logTau":-3.42},{"logM":-0.1875,"logPi":-0.1875,"logTau":-3.5},{"logM":-0.0625,"logPi":-0.1875,"logTau":-3.59},{"logM":0.0625,"logPi":-0.1875,"logTau":-3.68},{"logM":0.1875,"logPi":-0.1875,"logTau":-3.78},{"logM":0.3125,"logPi":-0.1875,"logTau":-3.88},{"logM":0.4375,"logPi":-0.1875,"logTau":-3.99},{"logM":0.5625,"logPi":-0.1875,"logTau":-4.1},{"logM":0.6875,"logPi":-0.1875,"logTau":-4.22},{"logM":0.8125,"logPi":-0.1875,"logTau":-4.34},{"logM":0.9375,"logPi":-0.1875,"logTau":-4.45},
{"logM":-2.4375,"logPi":-0.0625,"logTau":-3.16},{"logM":-2.3125,"logPi":-0.0625,"logTau":-3.16},{"logM":-2.1875,"logPi":-0.0625,"logTau":-3.16},{"logM":-2.0625,"logPi":-0.0625,"logTau":-3.16},{"logM":-1.9375,"logPi":-0.0625,"logTau":-3.17},{"logM":-1.8125,"logPi":-0.0625,"logTau":-3.17},{"logM":-1.6875,"logPi":-0.0625,"logTau":-3.17},{"logM":-1.5625,"logPi":-0.0625,"logTau":-3.18},{"logM":-1.4375,"logPi":-0.0625,"logTau":-3.19},{"logM":-1.3125,"logPi":-0.0625,"logTau":-3.2},{"logM":-1.1875,"logPi":-0.0625,"logTau":-3.21},{"logM":-1.0625,"logPi":-0.0625,"logTau":-3.23},{"logM":-0.9375,"logPi":-0.0625,"logTau":-3.25},{"logM":-0.8125,"logPi":-0.0625,"logTau":-3.28},{"logM":-0.6875,"logPi":-0.0625,"logTau":-3.32},{"logM":-0.5625,"logPi":-0.0625,"logTau":-3.36},{"logM":-0.4375,"logPi":-0.0625,"logTau":-3.41},{"logM":-0.3125,"logPi":-0.0625,"logTau":-3.47},{"logM":-0.1875,"logPi":-0.0625,"logTau":-3.54},{"logM":-0.0625,"logPi":-0.0625,"logTau":-3.62},{"logM":0.0625,"logPi":-0.0625,"logTau":-3.71},{"logM":0.1875,"logPi":-0.0625,"logTau":-3.8},{"logM":0.3125,"logPi":-0.0625,"logTau":-3.9},{"logM":0.4375,"logPi":-0.0625,"logTau":-4.0},{"logM":0.5625,"logPi":-0.0625,"logTau":-4.11},{"logM":0.6875,"logPi":-0.0625,"logTau":-4.23},{"logM":0.8125,"logPi":-0.0625,"logTau":-4.34},{"logM":0.9375,"logPi":-0.0625,"logTau":-4.46},
{"logM":-2.4375,"logPi":0.0625,"logTau":-3.26},{"logM":-2.3125,"logPi":0.0625,"logTau":-3.26},{"logM":-2.1875,"logPi":0.0625,"logTau":-3.26},{"logM":-2.0625,"logPi":0.0625,"logTau":-3.27},{"logM":-1.9375,"logPi":0.0625,"logTau":-3.27},{"logM":-1.8125,"logPi":0.0625,"logTau":-3.27},{"logM":-1.6875,"logPi":0.0625,"logTau":-3.27},{"logM":-1.5625,"logPi":0.0625,"logTau":-3.28},{"logM":-1.4375,"logPi":0.0625,"logTau":-3.29},{"logM":-1.3125,"logPi":0.0625,"logTau":-3.3},{"logM":-1.1875,"logPi":0.0625,"logTau":-3.31},{"logM":-1.0625,"logPi":0.0625,"logTau":-3.32},{"logM":-0.9375,"logPi":0.0625,"logTau":-3.34},{"logM":-0.8125,"logPi":0.0625,"logTau":-3.36},{"logM":-0.6875,"logPi":0.0625,"logTau":-3.39},{"logM":-0.5625,"logPi":0.0625,"logTau":-3.43},{"logM":-0.4375,"logPi":0.0625,"logTau":-3.47},{"logM":-0.3125,"logPi":0.0625,"logTau":-3.53},{"logM":-0.1875,"logPi":0.0625,"logTau":-3.59},{"logM":-0.0625,"logPi":0.0625,"logTau":-3.66},{"logM":0.0625,"logPi":0.0625,"logTau":-3.74},{"logM":0.1875,"logPi":0.0625,"logTau":-3.83},{"logM":0.3125,"logPi":0.0625,"logTau":-3.92},{"logM":0.4375,"logPi":0.0625,"logTau":-4.02},{"logM":0.5625,"logPi":0.0625,"logTau":-4.13},{"logM":0.6875,"logPi":0.0625,"logTau":-4.24},{"logM":0.8125,"logPi":0.0625,"logTau":-4.35},{"logM":0.9375,"logPi":0.0625,"logTau":-4.47},
{"logM":-2.4375,"logPi":0.1875,"logTau":-3.37},{"logM":-2.3125,"logPi":0.1875,"logTau":-3.37},{"logM":-2.1875,"logPi":0.1875,"logTau":-3.37},{"logM":-2.0625,"logPi":0.1875,"logTau":-3.37},{"logM":-1.9375,"logPi":0.1875,"logTau":-3.37},{"logM":-1.8125,"logPi":0.1875,"logTau":-3.37},{"logM":-1.6875,"logPi":0.1875,"logTau":-3.38},{"logM":-1.5625,"logPi":0.1875,"logTau":-3.38},{"logM":-1.4375,"logPi":0.1875,"logTau":-3.39},{"logM":-1.3125,"logPi":0.1875,"logTau":-3.39},{"logM":-1.1875,"logPi":0.1875,"logTau":-3.4},{"logM":-1.0625,"logPi":0.1875,"logTau":-3.41},{"logM":-0.9375,"logPi":0.1875,"logTau":-3.43},{"logM":-0.8125,"logPi":0.1875,"logTau":-3.45},{"logM":-0.6875,"logPi":0.1875,"logTau":-3.47},{"logM":-0.5625,"logPi":0.1875,"logTau":-3.5},{"logM":-0.4375,"logPi":0.1875,"logTau":-3.54},{"logM":-0.3125,"logPi":0.1875,"logTau":-3.59},{"logM":-0.1875,"logPi":0.1875,"logTau":-3.64},{"logM":-0.0625,"logPi":0.1875,"logTau":-3.7},{"logM":0.0625,"logPi":0.1875,"logTau":-3.78},{"logM":0.1875,"logPi":0.1875,"logTau":-3.86},{"logM":0.3125,"logPi":0.1875,"logTau":-3.95},{"logM":0.4375,"logPi":0.1875,"logTau":-4.04},{"logM":0.5625,"logPi":0.1875,"logTau":-4.14},{"logM":0.6875,"logPi":0.1875,"logTau":-4.25},{"logM":0.8125,"logPi":0.1875,"logTau":-4.36},{"logM":0.9375,"logPi":0.1875,"logTau":-4.47},
{"logM":-2.4375,"logPi":0.3125,"logTau":-3.47},{"logM":-2.3125,"logPi":0.3125,"logTau":-3.47},{"logM":-2.1875,"logPi":0.3125,"logTau":-3.47},{"logM":-2.0625,"logPi":0.3125,"logTau":-3.48},{"logM":-1.9375,"logPi":0.3125,"logTau":-3.48},{"logM":-1.8125,"logPi":0.3125,"logTau":-3.48},{"logM":-1.6875,"logPi":0.3125,"logTau":-3.48},{"logM":-1.5625,"logPi":0.3125,"logTau":-3.48},{"logM":-1.4375,"logPi":0.3125,"logTau":-3.49},{"logM":-1.3125,"logPi":0.3125,"logTau":-3.49},{"logM":-1.1875,"logPi":0.3125,"logTau":-3.5},{"logM":-1.0625,"logPi":0.3125,"logTau":-3.51},{"logM":-0.9375,"logPi":0.3125,"logTau":-3.52},{"logM":-0.8125,"logPi":0.3125,"logTau":-3.54},{"logM":-0.6875,"logPi":0.3125,"logTau":-3.56},{"logM":-0.5625,"logPi":0.3125,"logTau":-3.58},{"logM":-0.4375,"logPi":0.3125,"logTau":-3.61},{"logM":-0.3125,"logPi":0.3125,"logTau":-3.65},{"logM":-0.1875,"logPi":0.3125,"logTau":-3.7},{"logM":-0.0625,"logPi":0.3125,"logTau":-3.76},{"logM":0.0625,"logPi":0.3125,"logTau":-3.82},{"logM":0.1875,"logPi":0.3125,"logTau":-3.89},{"logM":0.3125,"logPi":0.3125,"logTau":-3.98},{"logM":0.4375,"logPi":0.3125,"logTau":-4.07},{"logM":0.5625,"logPi":0.3125,"logTau":-4.16},{"logM":0.6875,"logPi":0.3125,"logTau":-4.26},{"logM":0.8125,"logPi":0.3125,"logTau":-4.37},{"logM":0.9375,"logPi":0.3125,"logTau":-4.48},
{"logM":-2.4375,"logPi":0.4375,"logTau":-3.58},{"logM":-2.3125,"logPi":0.4375,"logTau":-3.58},{"logM":-2.1875,"logPi":0.4375,"logTau":-3.58},{"logM":-2.0625,"logPi":0.4375,"logTau":-3.58},{"logM":-1.9375,"logPi":0.4375,"logTau":-3.58},{"logM":-1.8125,"logPi":0.4375,"logTau":-3.58},{"logM":-1.6875,"logPi":0.4375,"logTau":-3.58},{"logM":-1.5625,"logPi":0.4375,"logTau":-3.59},{"logM":-1.4375,"logPi":0.4375,"logTau":-3.59},{"logM":-1.3125,"logPi":0.4375,"logTau":-3.59},{"logM":-1.1875,"logPi":0.4375,"logTau":-3.6},{"logM":-1.0625,"logPi":0.4375,"logTau":-3.61},{"logM":-0.9375,"logPi":0.4375,"logTau":-3.62},{"logM":-0.8125,"logPi":0.4375,"logTau":-3.63},{"logM":-0.6875,"logPi":0.4375,"logTau":-3.65},{"logM":-0.5625,"logPi":0.4375,"logTau":-3.67},{"logM":-0.4375,"logPi":0.4375,"logTau":-3.69},{"logM":-0.3125,"logPi":0.4375,"logTau":-3.73},{"logM":-0.1875,"logPi":0.4375,"logTau":-3.77},{"logM":-0.0625,"logPi":0.4375,"logTau":-3.81},{"logM":0.0625,"logPi":0.4375,"logTau":-3.87},{"logM":0.1875,"logPi":0.4375,"logTau":-3.94},{"logM":0.3125,"logPi":0.4375,"logTau":-4.01},{"logM":0.4375,"logPi":0.4375,"logTau":-4.09},{"logM":0.5625,"logPi":0.4375,"logTau":-4.19},{"logM":0.6875,"logPi":0.4375,"logTau":-4.28},{"logM":0.8125,"logPi":0.4375,"logTau":-4.39},{"logM":0.9375,"logPi":0.4375,"logTau":-4.49},
{"logM":-2.4375,"logPi":0.5625,"logTau":-3.68},{"logM":-2.3125,"logPi":0.5625,"logTau":-3.68},{"logM":-2.1875,"logPi":0.5625,"logTau":-3.69},{"logM":-2.0625,"logPi":0.5625,"logTau":-3.69},{"logM":-1.9375,"logPi":0.5625,"logTau":-3.69},{"logM":-1.8125,"logPi":0.5625,"logTau":-3.69},{"logM":-1.6875,"logPi":0.5625,"logTau":-3.69},{"logM":-1.5625,"logPi":0.5625,"logTau":-3.69},{"logM":-1.4375,"logPi":0.5625,"logTau":-3.69},{"logM":-1.3125,"logPi":0.5625,"logTau":-3.7},{"logM":-1.1875,"logPi":0.5625,"logTau":-3.7},{"logM":-1.0625,"logPi":0.5625,"logTau":-3.71},{"logM":-0.9375,"logPi":0.5625,"logTau":-3.71},{"logM":-0.8125,"logPi":0.5625,"logTau":-3.72},{"logM":-0.6875,"logPi":0.5625,"logTau":-3.74},{"logM":-0.5625,"logPi":0.5625,"logTau":-3.76},{"logM":-0.4375,"logPi":0.5625,"logTau":-3.78},{"logM":-0.3125,"logPi":0.5625,"logTau":-3.8},{"logM":-0.1875,"logPi":0.5625,"logTau":-3.84},{"logM":-0.0625,"logPi":0.5625,"logTau":-3.88},{"logM":0.0625,"logPi":0.5625,"logTau":-3.93},{"logM":0.1875,"logPi":0.5625,"logTau":-3.99},{"logM":0.3125,"logPi":0.5625,"logTau":-4.05},{"logM":0.4375,"logPi":0.5625,"logTau":-4.13},{"logM":0.5625,"logPi":0.5625,"logTau":-4.21},{"logM":0.6875,"logPi":0.5625,"logTau":-4.31},{"logM":0.8125,"logPi":0.5625,"logTau":-4.4},{"logM":0.9375,"logPi":0.5625,"logTau":-4.51},
{"logM":-2.4375,"logPi":0.6875,"logTau":-3.79},{"logM":-2.3125,"logPi":0.6875,"logTau":-3.79},{"logM":-2.1875,"logPi":0.6875,"logTau":-3.79},{"logM":-2.0625,"logPi":0.6875,"logTau":-3.79},{"logM":-1.9375,"logPi":0.6875,"logTau":-3.79},{"logM":-1.8125,"logPi":0.6875,"logTau":-3.79},{"logM":-1.6875,"logPi":0.6875,"logTau":-3.79},{"logM":-1.5625,"logPi":0.6875,"logTau":-3.8},{"logM":-1.4375,"logPi":0.6875,"logTau":-3.8},{"logM":-1.3125,"logPi":0.6875,"logTau":-3.8},{"logM":-1.1875,"logPi":0.6875,"logTau":-3.8},{"logM":-1.0625,"logPi":0.6875,"logTau":-3.81},{"logM":-0.9375,"logPi":0.6875,"logTau":-3.81},{"logM":-0.8125,"logPi":0.6875,"logTau":-3.82},{"logM":-0.6875,"logPi":0.6875,"logTau":-3.83},{"logM":-0.5625,"logPi":0.6875,"logTau":-3.85},{"logM":-0.4375,"logPi":0.6875,"logTau":-3.86},{"logM":-0.3125,"logPi":0.6875,"logTau":-3.89},{"logM":-0.1875,"logPi":0.6875,"logTau":-3.91},{"logM":-0.0625,"logPi":0.6875,"logTau":-3.95},{"logM":0.0625,"logPi":0.6875,"logTau":-3.99},{"logM":0.1875,"logPi":0.6875,"logTau":-4.04},{"logM":0.3125,"logPi":0.6875,"logTau":-4.1},{"logM":0.4375,"logPi":0.6875,"logTau":-4.17},{"logM":0.5625,"logPi":0.6875,"logTau":-4.25},{"logM":0.6875,"logPi":0.6875,"logTau":-4.33},{"logM":0.8125,"logPi":0.6875,"logTau":-4.43},{"logM":0.9375,"logPi":0.6875,"logTau":-4.53},
{"logM":-2.4375,"logPi":0.8125,"logTau":-3.9},{"logM":-2.3125,"logPi":0.8125,"logTau":-3.9},{"logM":-2.1875,"logPi":0.8125,"logTau":-3.9},{"logM":-2.0625,"logPi":0.8125,"logTau":-3.9},{"logM":-1.9375,"logPi":0.8125,"logTau":-3.9},{"logM":-1.8125,"logPi":0.8125,"logTau":-3.9},{"logM":-1.6875,"logPi":0.8125,"logTau":-3.9},{"logM":-1.5625,"logPi":0.8125,"logTau":-3.9},{"logM":-1.4375,"logPi":0.8125,"logTau":-3.9},{"logM":-1.3125,"logPi":0.8125,"logTau":-3.9},{"logM":-1.1875,"logPi":0.8125,"logTau":-3.91},{"logM":-1.0625,"logPi":0.8125,"logTau":-3.91},{"logM":-0.9375,"logPi":0.8125,"logTau":-3.92},{"logM":-0.8125,"logPi":0.8125,"logTau":-3.92},{"logM":-0.6875,"logPi":0.8125,"logTau":-3.93},{"logM":-0.5625,"logPi":0.8125,"logTau":-3.94},{"logM":-0.4375,"logPi":0.8125,"logTau":-3.95},{"logM":-0.3125,"logPi":0.8125,"logTau":-3.97},{"logM":-0.1875,"logPi":0.8125,"logTau":-4.0},{"logM":-0.0625,"logPi":0.8125,"logTau":-4.03},{"logM":0.0625,"logPi":0.8125,"logTau":-4.06},{"logM":0.1875,"logPi":0.8125,"logTau":-4.1},{"logM":0.3125,"logPi":0.8125,"logTau":-4.16},{"logM":0.4375,"logPi":0.8125,"logTau":-4.22},{"logM":0.5625,"logPi":0.8125,"logTau":-4.29},{"logM":0.6875,"logPi":0.8125,"logTau":-4.37},{"logM":0.8125,"logPi":0.8125,"logTau":-4.45},{"logM":0.9375,"logPi":0.8125,"logTau":-4.55},
{"logM":-2.4375,"logPi":0.9375,"logTau":-4.0},{"logM":-2.3125,"logPi":0.9375,"logTau":-4.0},{"logM":-2.1875,"logPi":0.9375,"logTau":-4.0},{"logM":-2.0625,"logPi":0.9375,"logTau":-4.0},{"logM":-1.9375,"logPi":0.9375,"logTau":-4.0},{"logM":-1.8125,"logPi":0.9375,"logTau":-4.0},{"logM":-1.6875,"logPi":0.9375,"logTau":-4.0},{"logM":-1.5625,"logPi":0.9375,"logTau":-4.01},{"logM":-1.4375,"logPi":0.9375,"logTau":-4.01},{"logM":-1.3125,"logPi":0.9375,"logTau":-4.01},{"logM":-1.1875,"logPi":0.9375,"logTau":-4.01},{"logM":-1.0625,"logPi":0.9375,"logTau":-4.01},{"logM":-0.9375,"logPi":0.9375,"logTau":-4.02},{"logM":-0.8125,"logPi":0.9375,"logTau":-4.02},{"logM":-0.6875,"logPi":0.9375,"logTau":-4.03},{"logM":-0.5625,"logPi":0.9375,"logTau":-4.04},{"logM":-0.4375,"logPi":0.9375,"logTau":-4.05},{"logM":-0.3125,"logPi":0.9375,"logTau":-4.06},{"logM":-0.1875,"logPi":0.9375,"logTau":-4.08},{"logM":-0.0625,"logPi":0.9375,"logTau":-4.11},{"logM":0.0625,"logPi":0.9375,"logTau":-4.14},{"logM":0.1875,"logPi":0.9375,"logTau":-4.17},{"logM":0.3125,"logPi":0.9375,"logTau":-4.22},{"logM":0.4375,"logPi":0.9375,"logTau":-4.27},{"logM":0.5625,"logPi":0.9375,"logTau":-4.33},{"logM":0.6875,"logPi":0.9375,"logTau":-4.41},{"logM":0.8125,"logPi":0.9375,"logTau":-4.49},{"logM":0.9375,"logPi":0.9375,"logTau":-4.57}
]
},
"hconcat": [
{
  "width": 300, "height": 270,
  "title": {"text": "(a) Deswelling timescales when", "subtitle": "ℓ = 0.5", "fontSize": 24, "font": "Liberation Serif", "fontWeight": "normal", "subtitleFont": "Liberation Serif", "subtitleFontSize": 24, "subtitleColor": "black", "subtitlePadding": 2, "anchor": "middle", "offset": 30},
  "layer": [
    {"data": {"name": "heat"},
     "mark": {"type": "rect", "width": 11.4, "height": 10.4, "clip": true},
     "encoding": {
       "x": {"field": "logM", "type": "quantitative", "scale": {"domain": [-2.5, 1], "nice": false, "zero": false},
             "axis": {"orient": "bottom", "values": [-2, -1, 0, 1], "ticks": false, "labelFont": "Liberation Serif", "labelExpr": "datum.value == -2 ? '10⁻²' : datum.value == -1 ? '10⁻¹' : datum.value == 0 ? '1' : '10¹'", "title": "ℳ", "titlePadding": 17}},
       "y": {"field": "logPi", "type": "quantitative", "scale": {"domain": [-2.5, 1], "nice": false, "zero": false},
             "axis": {"orient": "left", "values": [-2, -1, 0, 1], "ticks": false, "labelFont": "Liberation Serif", "labelExpr": "datum.value == -2 ? '10⁻²' : datum.value == -1 ? '10⁻¹' : datum.value == 0 ? '1' : '10¹'", "title": ["˜", "Π"], "titleFont": "Liberation Serif", "titleFontSize": 22, "titleLineHeight": 5, "titlePadding": 14}},
       "color": {"field": "logTau", "type": "quantitative",
         "scale": {"domain": [-4.667, -4.5, -4.24, -4.0, -3.67, -3.41, -3.22, -3.0, -2.77, -2.58, -2.38, -2.19, -2.0, -1.68, -1.42, -1.205],
                   "range": ["#303039", "#35334f", "#3b3878", "#4040a2", "#3b50cf", "#3068d8", "#2580c0", "#2090a0", "#40a078", "#6aab58", "#98b038", "#b8b028", "#d6ae1c", "#f0be28", "#f8d020", "#fff200"],
                   "interpolate": "rgb", "clamp": true},
         "legend": {"orient": "none", "legendX": 315, "legendY": -36, "direction": "vertical", "title": "τ₉₉", "titleFont": "Liberation Serif", "titleFontSize": 20, "titlePadding": 14,
                    "gradientLength": 270, "gradientThickness": 17, "gradientStrokeColor": "black", "gradientStrokeWidth": 1.2,
                    "values": [-4, -3, -2], "labelExpr": "datum.value == -4 ? '10⁻⁴' : datum.value == -3 ? '10⁻³' : '10⁻²'", "labelFont": "Liberation Serif", "labelFontSize": 21, "labelOffset": 8, "labelOverlap": false}}
     }},
    {"data": {"values": [{"logM": -2.5, "logPi": -2.5}]}, "mark": {"type": "point", "opacity": 0},
     "encoding": {
       "x": {"field": "logM", "type": "quantitative", "axis": {"orient": "bottom", "values": [-2, -1, 0, 1], "labels": false, "tickSize": -7, "title": null}},
       "y": {"field": "logPi", "type": "quantitative", "axis": {"orient": "left", "values": [-2, -1, 0, 1], "labels": false, "tickSize": -7, "title": null}}
     }},
    {"data": {"values": [{"logM": -2.5, "logPi": -2.5}]}, "mark": {"type": "point", "opacity": 0},
     "encoding": {
       "x": {"field": "logM", "type": "quantitative", "axis": {"orient": "bottom", "values": [-2.39794, -2.30103, -2.22185, -2.1549, -2.09691, -2.04576, -1.69897, -1.52288, -1.39794, -1.30103, -1.22185, -1.1549, -1.09691, -1.04576, -0.69897, -0.52288, -0.39794, -0.30103, -0.22185, -0.1549, -0.09691, -0.04576, 0.30103, 0.47712, 0.60206, 0.69897, 0.77815, 0.8451, 0.90309, 0.95424], "labels": false, "tickSize": -4, "title": null}},
       "y": {"field": "logPi", "type": "quantitative", "axis": {"orient": "left", "values": [-2.39794, -2.30103, -2.22185, -2.1549, -2.09691, -2.04576, -1.69897, -1.52288, -1.39794, -1.30103, -1.22185, -1.1549, -1.09691, -1.04576, -0.69897, -0.52288, -0.39794, -0.30103, -0.22185, -0.1549, -0.09691, -0.04576, 0.30103, 0.47712, 0.60206, 0.69897, 0.77815, 0.8451, 0.90309, 0.95424], "labels": false, "tickSize": -4, "title": null}}
     }},
    {"data": {"values": [{"logM": -2.5, "logPi": -2.5}]}, "mark": {"type": "point", "opacity": 0},
     "encoding": {
       "x": {"field": "logM", "type": "quantitative", "axis": {"orient": "top", "values": [-2, -1, 0, 1], "labels": false, "tickSize": -7, "title": null}},
       "y": {"field": "logPi", "type": "quantitative", "axis": {"orient": "right", "values": [-2, -1, 0, 1], "labels": false, "tickSize": -7, "title": null}}
     }},
    {"data": {"values": [{"logM": -2.5, "logPi": -2.5}]}, "mark": {"type": "point", "opacity": 0},
     "encoding": {
       "x": {"field": "logM", "type": "quantitative", "axis": {"orient": "top", "values": [-2.39794, -2.30103, -2.22185, -2.1549, -2.09691, -2.04576, -1.69897, -1.52288, -1.39794, -1.30103, -1.22185, -1.1549, -1.09691, -1.04576, -0.69897, -0.52288, -0.39794, -0.30103, -0.22185, -0.1549, -0.09691, -0.04576, 0.30103, 0.47712, 0.60206, 0.69897, 0.77815, 0.8451, 0.90309, 0.95424], "labels": false, "tickSize": -4, "title": null}},
       "y": {"field": "logPi", "type": "quantitative", "axis": {"orient": "right", "values": [-2.39794, -2.30103, -2.22185, -2.1549, -2.09691, -2.04576, -1.69897, -1.52288, -1.39794, -1.30103, -1.22185, -1.1549, -1.09691, -1.04576, -0.69897, -0.52288, -0.39794, -0.30103, -0.22185, -0.1549, -0.09691, -0.04576, 0.30103, 0.47712, 0.60206, 0.69897, 0.77815, 0.8451, 0.90309, 0.95424], "labels": false, "tickSize": -4, "title": null}}
     }}
  ],
  "resolve": {"axis": {"x": "independent", "y": "independent"}}
},
{
  "width": 330, "height": 270,
  "title": {"text": "(b) Polymer fraction with", "subtitle": ["˜", "ℳ = Π = 1"], "fontSize": 24, "font": "Liberation Serif", "fontWeight": "normal", "subtitleFont": "Liberation Serif", "subtitleFontSize": 24, "subtitleLineHeight": 5, "subtitleColor": "black", "subtitlePadding": -3, "anchor": "middle", "offset": 62},
  "layer": [
    {"data": {"name": "curves"},
     "mark": {"type": "line", "strokeWidth": 2.2, "clip": true, "interpolate": "monotone"},
     "encoding": {
       "x": {"field": "tau", "type": "quantitative", "scale": {"domain": [0, 1], "nice": false, "zero": false},
             "axis": {"orient": "bottom", "values": [0, 0.2, 0.4, 0.6, 0.8, 1], "format": "~g", "ticks": false, "labelFont": "Liberation Serif", "title": "τ", "titleFont": "Liberation Serif", "titleFontStyle": "italic", "titlePadding": 4}},
       "y": {"field": "phi", "type": "quantitative", "scale": {"domain": [1, 2], "nice": false, "zero": false},
             "axis": {"orient": "left", "values": [1, 1.2, 1.4, 1.6, 1.8, 2], "format": "~g", "ticks": false, "labelFont": "Liberation Serif", "title": "Φ₁", "titleFont": "Liberation Serif", "titlePadding": 2}},
       "color": {"field": "ell", "type": "ordinal",
         "scale": {"domain": [0.01, 0.1, 0.25, 0.5, 0.75, 0.9], "range": ["#184a7e", "#1464b4", "#1e88ec", "#4aa3f2", "#85c2f6", "#c3e1fb"]},
         "legend": {"orient": "none", "legendX": 198, "legendY": 77, "title": null, "symbolType": "stroke", "symbolSize": 484, "symbolStrokeWidth": 2.5,
                    "labelFont": "Liberation Serif", "labelFontSize": 22, "labelOffset": 7, "rowPadding": 6, "labelExpr": "'ℓ = ' + datum.label"}}
     }},
    {"data": {"values": [{"tau": 1, "phi": 1, "note": "·10⁻³"}]},
     "mark": {"type": "text", "align": "right", "baseline": "top", "dx": -14, "dy": 48, "fontSize": 21, "font": "Liberation Serif", "color": "black"},
     "encoding": {
       "x": {"field": "tau", "type": "quantitative", "axis": {"orient": "bottom", "values": [0, 0.2, 0.4, 0.6, 0.8, 1], "labels": false, "tickSize": -7, "title": null}},
       "y": {"field": "phi", "type": "quantitative", "axis": {"orient": "left", "values": [1, 1.2, 1.4, 1.6, 1.8, 2], "labels": false, "tickSize": -7, "title": null}},
       "text": {"field": "note"}
     }},
    {"data": {"values": [{"tau": 0, "phi": 1}]}, "mark": {"type": "point", "opacity": 0},
     "encoding": {
       "x": {"field": "tau", "type": "quantitative", "axis": {"orient": "top", "values": [0, 0.2, 0.4, 0.6, 0.8, 1], "labels": false, "tickSize": -7, "title": null}},
       "y": {"field": "phi", "type": "quantitative", "axis": {"orient": "right", "values": [1, 1.2, 1.4, 1.6, 1.8, 2], "labels": false, "tickSize": -7, "title": null}}
     }}
  ],
  "resolve": {"axis": {"x": "independent", "y": "independent"}}
}
]
}
